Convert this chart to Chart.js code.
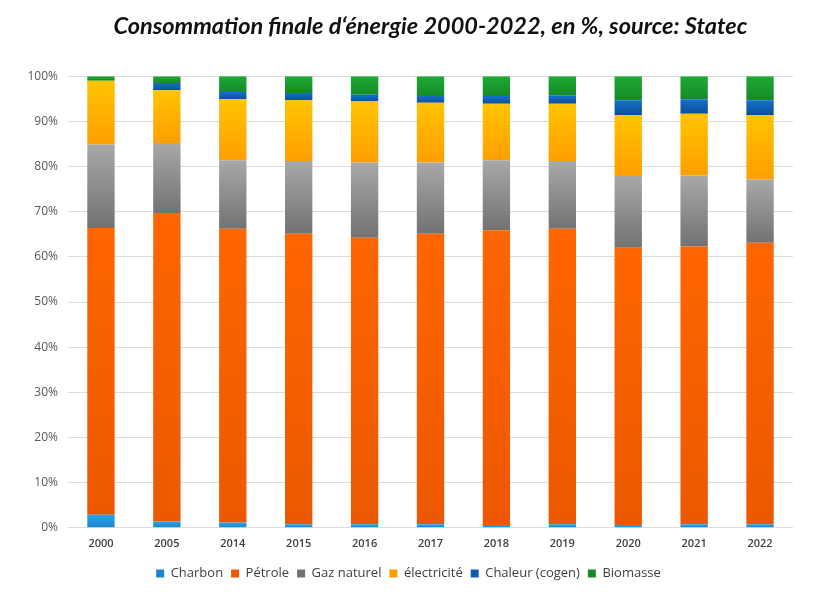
<!DOCTYPE html>
<html>
<head>
<meta charset="utf-8">
<script src="https://cdn.jsdelivr.net/npm/chart.js@4"></script>
<style>
  html, body { margin: 0; padding: 0; background: #fff; }
  #wrap { width: 820px; height: 606px; }
</style>
</head>
<body>
<div id="wrap"><canvas id="energyChart"></canvas></div>
<script>
// années
var years = ["2000", "2005", "2014", "2015", "2016", "2017", "2018", "2019", "2020", "2021", "2022"];

// parts en %
var charbon  = [2.9, 1.4, 1.2, 0.8, 0.8, 0.8, 0.6, 0.8, 0.6, 0.8, 0.8];
var petrole  = [63.5, 68.3, 65.0, 64.3, 63.4, 64.3, 65.3, 65.4, 61.4, 61.5, 62.3];
var gaz      = [18.5, 15.5, 15.2, 16.1, 16.7, 15.8, 15.5, 15.0, 15.9, 15.7, 14.0];
var elec     = [14.1, 11.7, 13.5, 13.5, 13.6, 13.2, 12.5, 12.7, 13.5, 13.7, 14.3];
var chaleur  = [0.0, 1.6, 1.6, 1.6, 1.4, 1.5, 1.7, 1.9, 3.3, 3.2, 3.3];
var biomasse = [1.0, 1.5, 3.5, 3.7, 4.1, 4.4, 4.4, 4.2, 5.3, 5.1, 5.3];

var yTicks = [0, 10, 20, 30, 40, 50, 60, 70, 80, 90, 100];

var seriesList = [charbon, petrole, gaz, elec, chaleur, biomasse];

// dégradé vertical par segment, comme dans Excel
function segGradient(solid, top, bottom) {
    return function (c) {
        if (c.type !== 'data') return solid;
        var chart = c.chart;
        var y = chart.scales.y;
        if (!y) return solid;
        var i = c.dataIndex, d = c.datasetIndex;
        var start = 0;
        for (var k = 0; k < d; k++) start += seriesList[k][i];
        var end = start + seriesList[d][i];
        var y0 = y.getPixelForValue(end), y1 = y.getPixelForValue(start);
        if (!isFinite(y0) || !isFinite(y1) || y1 - y0 < 0.5) return solid;
        var g = chart.ctx.createLinearGradient(0, y0, 0, y1);
        g.addColorStop(0, top);
        g.addColorStop(1, bottom);
        return g;
    };
}

var ds = function (label, data, solid, top, bottom) {
    return {
        label: label,
        data: data,
        backgroundColor: segGradient(solid, top, bottom),
        borderWidth: 0,
        barPercentage: 0.83,
        categoryPercentage: 0.5
    };
};

var fontFam = "'Open Sans', 'DejaVu Sans', sans-serif";

new Chart(document.getElementById("energyChart"), {
    type: 'bar',
    data: {
        labels: years,
        datasets: [
            ds("Charbon", charbon, "#1f96dc", "#2aa3e8", "#1a86cc"),
            ds("Pétrole", petrole, "#f26200", "#ff6600", "#ec5800"),
            ds("Gaz naturel", gaz, "#9a9a9a", "#a8a8a8", "#727272"),
            ds("électricité", elec, "#ffc000", "#ffc400", "#ff9e00"),
            ds("Chaleur (cogen)", chaleur, "#0b5cb0", "#1570cc", "#0b4f9a"),
            ds("Biomasse", biomasse, "#2ca02c", "#1eaa34", "#168a28")
        ]
    },
    options: {
        responsive: true,
        maintainAspectRatio: false,
        animation: false,
        layout: {
            padding: { left: 24, right: 27, top: 0, bottom: 16 }
        },
        plugins: {
            title: {
                display: true,
                fullSize: false,
                text: "Consommation finale d\u2018énergie 2000-2022, en %, source: Statec",
                color: "#111",
                font: { family: "Lato, 'Open Sans', sans-serif", size: 23.5, weight: 'bold', style: 'italic' },
                padding: { top: 12, bottom: 36 }
            },
            legend: {
                position: 'bottom',
                labels: {
                    boxWidth: 8,
                    boxHeight: 8,
                    padding: 8,
                    color: "#404040",
                    font: { family: fontFam, size: 13 }
                }
            },
            tooltip: { enabled: false }
        },
        scales: {
            x: {
                stacked: true,
                grid: { display: false },
                border: { display: false },
                afterFit: function (scale) { scale.height += 8; },
                ticks: {
                    padding: 1,
                    color: "#404040",
                    maxRotation: 0,
                    font: { family: fontFam, size: 11, weight: '600' }
                }
            },
            y: {
                stacked: true,
                min: 0,
                max: 100,
                afterFit: function (scale) { scale.width = 44; },
                afterBuildTicks: function (scale) {
                    scale.ticks = yTicks.map(function (v) { return { value: v }; });
                },
                grid: { color: "#dcdcdc", lineWidth: 1, drawTicks: false },
                border: { display: false },
                ticks: {
                    padding: 10,
                    color: "#595959",
                    font: { family: fontFam, size: 12 },
                    callback: function (v) { return v + "%"; }
                }
            }
        }
    }
});
</script>
</body>
</html>
